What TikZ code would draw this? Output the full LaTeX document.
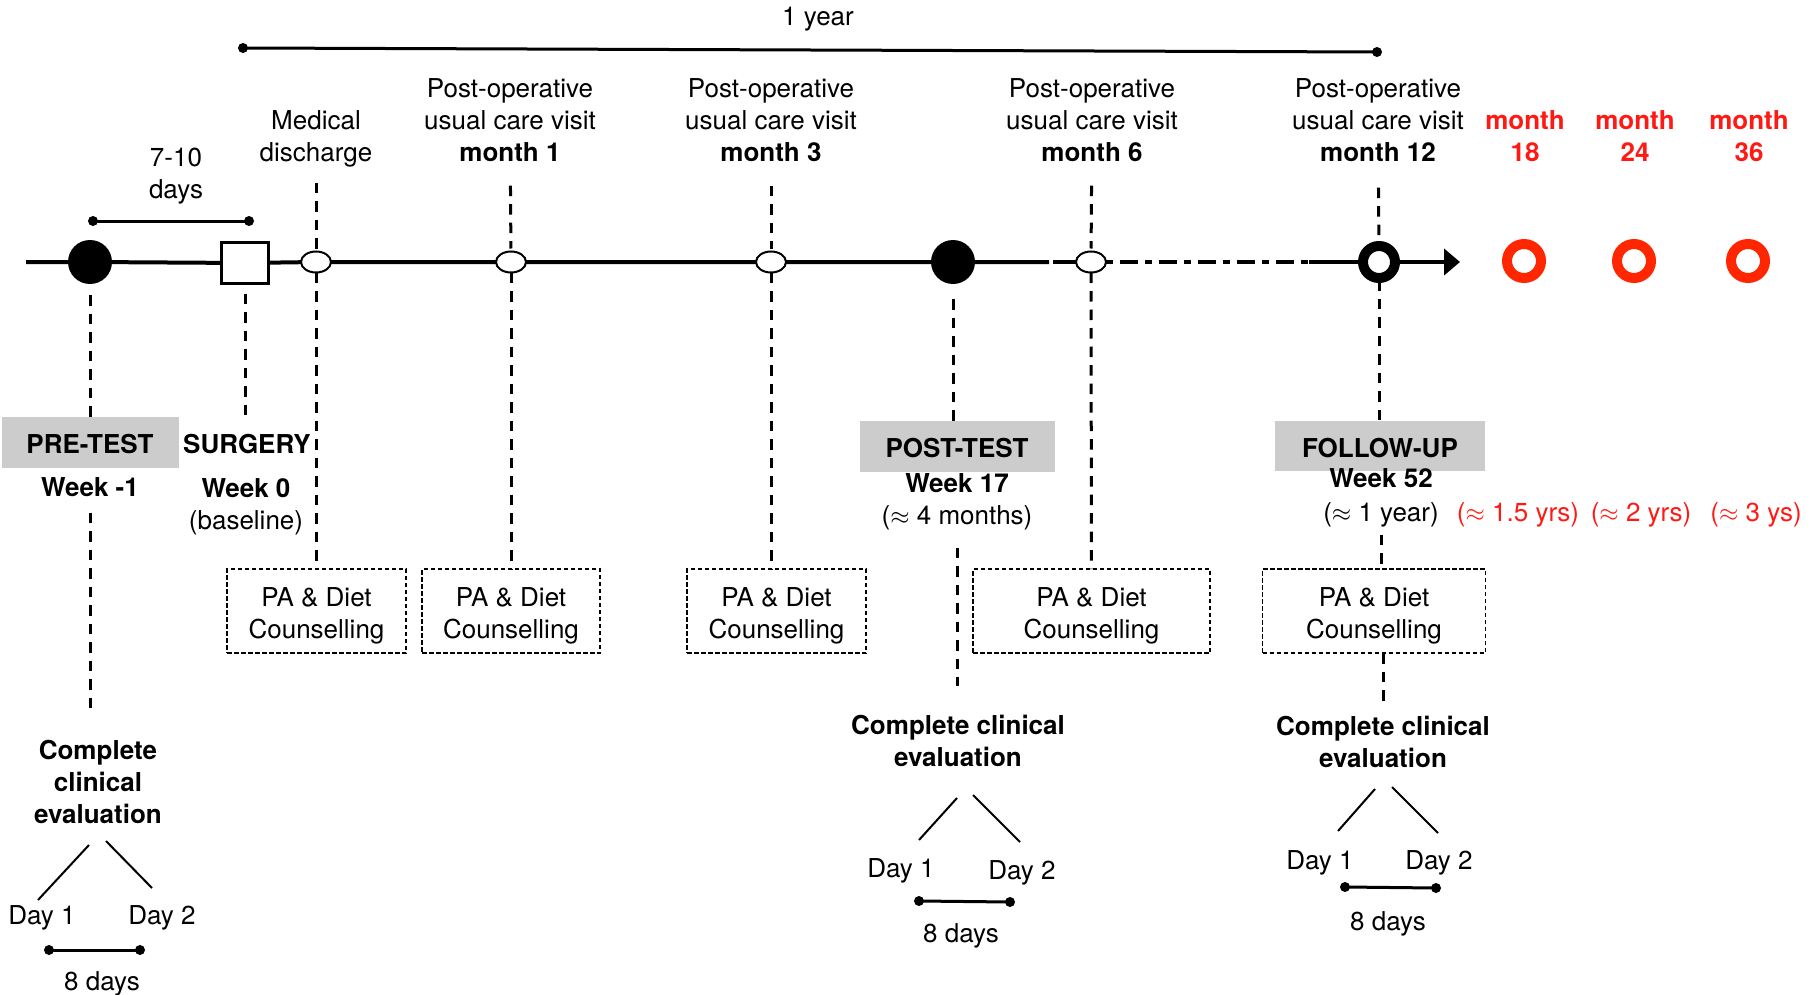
\documentclass[tikz,border=0pt]{standalone}
\usepackage{fontspec}
\setmainfont{TeX Gyre Heros}
\usetikzlibrary{arrows.meta,shapes.geometric}
\definecolor{ringred}{RGB}{255,38,0}
\definecolor{txtred}{RGB}{255,25,20}
\definecolor{boxgrey}{RGB}{204,204,204}
\newcommand{\patext}{\rule{0pt}{28pt}PA \& Diet\\Counselling}
\begin{document}
\begin{tikzpicture}[x=1pt,y=-1pt,
  every node/.style={inner sep=0pt, outer sep=0pt, align=center, font=\fontsize{26}{32}\selectfont},
  bf/.style={font=\fontsize{26}{32}\selectfont\bfseries},
  redt/.style={text=txtred},
  axisline/.style={line width=4pt},
  dashdotline/.style={line width=4pt, dash pattern=on 7pt off 7pt on 18pt off 7pt},
  dl/.style={line width=3pt, dash pattern=on 10.5pt off 8pt},
  greybox/.style={fill=boxgrey, font=\fontsize{26}{32}\selectfont\bfseries, text height=23pt, text depth=0pt},
  pabox/.style={draw, line width=1.8pt, dash pattern=on 4.5pt off 2.5pt, minimum height=84pt},
  bardot/.style={circle, fill, minimum size=10pt},
  bar/.style={line width=3pt},
  branch/.style={line width=2pt},
  oval/.style={ellipse, draw, fill=white, line width=2pt, minimum width=30pt, minimum height=21pt},
  bigdot/.style={circle, fill, minimum size=44pt},
  ring/.style={circle, draw, line width=10pt, fill=white, minimum size=32pt},
  redring/.style={circle, draw=ringred, line width=10pt, minimum size=34pt}
]
\useasboundingbox (0,0) rectangle (1817,995);

% ---- 1 year bar ----
\node (oneyear) at (818,19) {1 year};
\node[bardot] (ya) at (243,48) {};
\node[bardot] (yb) at (1377,52) {};
\draw[bar] (ya.center) -- (yb.center);

% ---- 7-10 days ----
\node (sevten) at (176,176.6) {7-10\\days};
\node[bardot] (sa) at (93,221) {};
\node[bardot] (sb) at (249,221) {};
\draw[bar] (sa.center) -- (sb.center);

% ---- top labels ----
\node (disl) at (316,138.6) {Medical\\discharge};
\node (m1l) at (510,120) {Post-operative\\usual care visit\\\textbf{month 1}};
\node (m3l) at (771,120) {Post-operative\\usual care visit\\\textbf{month 3}};
\node (m6l) at (1092,120) {Post-operative\\usual care visit\\\textbf{month 6}};
\node (m12l) at (1378,120) {Post-operative\\usual care visit\\\textbf{month 12}};
\node[bf, redt] (r18) at (1525,136) {month\\18};
\node[bf, redt] (r24) at (1635,136) {month\\24};
\node[bf, redt] (r36) at (1749,136) {month\\36};

% ---- timeline markers ----
\coordinate (start) at (26,262);
\node[bigdot] (pre) at (90,262) {};
\node[draw, fill=white, line width=2.5pt, minimum width=47pt, minimum height=41pt] (sq) at (245,263) {};
\node[oval] (dis) at (316,262) {};
\node[oval] (m1) at (511,262) {};
\node[oval] (m3) at (771,262) {};
\node[bigdot] (post) at (953,262) {};
\node[oval] (m6) at (1091,262) {};
\node[ring] (m12) at (1379,262) {};
\node[redring] (c18) at (1524,261) {};
\node[redring] (c24) at (1634,261) {};
\node[redring] (c36) at (1748,261) {};
\coordinate (gapA) at (1049,262);
\coordinate (gapB) at (1053,262);
\coordinate (dd) at (1309,262);
\coordinate (tip) at (1460,262);

% ---- axis ----
\draw[axisline] (start) -- (pre) -- (sq) -- (dis) -- (m1) -- (m3) -- (post) -- (gapA);
\draw[axisline] (gapB) -- (m6);
\draw[dashdotline] (m6) -- (dd);
\draw[axisline] (dd) -- (m12);
\draw[axisline, -{Triangle[length=16pt,width=26pt]}] (m12) -- (tip);

% ---- phase labels ----
\node[greybox, minimum width=177pt, minimum height=51pt] (pret) at (90,442) {PRE-TEST};
\node[bf] (wkm1) at (90,487) {Week -1};
\node[bf] (surg) at (247,444) {SURGERY};
\node (wk0) at (246,506.6) {\textbf{Week 0}\\(baseline)};
\node[greybox, minimum width=195pt, minimum height=51pt] (postt) at (957,446) {POST-TEST};
\node (wk17) at (957,501.6) {\textbf{Week 17}\\($\approx$ 4 months)};
\node[greybox, minimum width=210pt, minimum height=50pt] (fu) at (1380,446) {FOLLOW-UP};
\node (wk52) at (1381,497.6) {\textbf{Week 52}\\[2pt]($\approx$ 1 year)};
\node[redt] (a18) at (1518,514.7) {($\approx$ 1.5 yrs)};
\node[redt] (a24) at (1641,514.7) {($\approx$ 2 yrs)};
\node[redt] (a36) at (1756,514.7) {($\approx$ 3 ys)};

% ---- counselling boxes ----
\node[pabox, minimum width=179pt] (b1) at (316.5,611) {\patext};
\node[pabox, minimum width=178pt] (b2) at (511,611) {\patext};
\node[pabox, minimum width=179pt] (b3) at (776.5,611) {\patext};
\node[pabox, minimum width=237pt] (b4) at (1091.5,611) {\patext};
\node[pabox, minimum width=223pt] (b5) at (1374,611) {\patext};

% ---- clinical evaluations ----
\node[bf] (ev0) at (98,782) {Complete\\clinical\\evaluation};
\node[bf] (ev1) at (958,741) {Complete clinical\\evaluation};
\node[bf] (ev2) at (1383,742) {Complete clinical\\evaluation};

\node (d01) at (42,917.7) {Day 1};
\node (d02) at (162,917.7) {Day 2};
\node (d11) at (901,870.7) {Day 1};
\node (d12) at (1022,872.7) {Day 2};
\node (d21) at (1320,862.7) {Day 1};
\node (d22) at (1439,862.7) {Day 2};

\coordinate (l0a) at (89,845); \coordinate (l0b) at (38,900);
\coordinate (r0a) at (106,841); \coordinate (r0b) at (152,888);
\coordinate (l1a) at (957,798); \coordinate (l1b) at (919,840);
\coordinate (r1a) at (973,795); \coordinate (r1b) at (1020,842);
\coordinate (l2a) at (1375,789); \coordinate (l2b) at (1338,831);
\coordinate (r2a) at (1392,787); \coordinate (r2b) at (1438,833);
\draw[branch] (l0a) -- (l0b);
\draw[branch] (r0a) -- (r0b);
\draw[branch] (l1a) -- (l1b);
\draw[branch] (r1a) -- (r1b);
\draw[branch] (l2a) -- (l2b);
\draw[branch] (r2a) -- (r2b);

\node[bardot] (e0a) at (49,950) {};
\node[bardot] (e0b) at (140,950) {};
\draw[bar] (e0a.center) -- (e0b.center);
\node (eight0) at (102,983.7) {8 days};
\node[bardot] (e1a) at (919,901) {};
\node[bardot] (e1b) at (1010,902) {};
\draw[bar] (e1a.center) -- (e1b.center);
\node (eight1) at (961,935.7) {8 days};
\node[bardot] (e2a) at (1345,887) {};
\node[bardot] (e2b) at (1436,888) {};
\draw[bar] (e2a.center) -- (e2b.center);
\node (eight2) at (1388,923.7) {8 days};

% ---- dashed connectors ----
\draw[dl, shorten <=11pt] (pre) -- (pret);
\draw[dl, shorten <=16pt, shorten >=29pt] (wkm1) -- (wkm1 |- ev0.north);
\draw[dl, shorten <=10pt, shorten >=19pt] (sq) -- (sq |- surg.north);
\draw[dl, shorten <=16pt, shorten >=3pt] (disl) -- (dis);
\draw[dl] (dis) -- (dis |- b1.north);
\draw[dl, shorten <=24pt, shorten >=3pt] (m1l) -- (m1);
\draw[dl] (m1) -- (b2);
\draw[dl, shorten <=24pt, shorten >=3pt] (m3l) -- (m3);
\draw[dl] (m3) -- (m3 |- b3.north);
\draw[dl, shorten <=24pt, shorten >=3pt] (m6l) -- (m6);
\draw[dl] (m6) -- (b4);
\draw[dl, shorten <=26pt, shorten >=4pt] (m12l) -- (m12);
\draw[dl, shorten <=15pt] (post) -- (post |- postt.north);
\draw[dl, shorten <=18pt, shorten >=29pt] (wk17) -- (wk17 |- ev1.north);
\draw[dl, shorten <=2pt] (m12) -- (m12 |- fu.north);
\draw[dl, shorten <=8pt, shorten >=5pt] (wk52) -- (wk52 |- b5.north);
\draw[dl, shorten >=14pt] (b5.south -| ev2) -- (ev2);
\end{tikzpicture}
\end{document}
